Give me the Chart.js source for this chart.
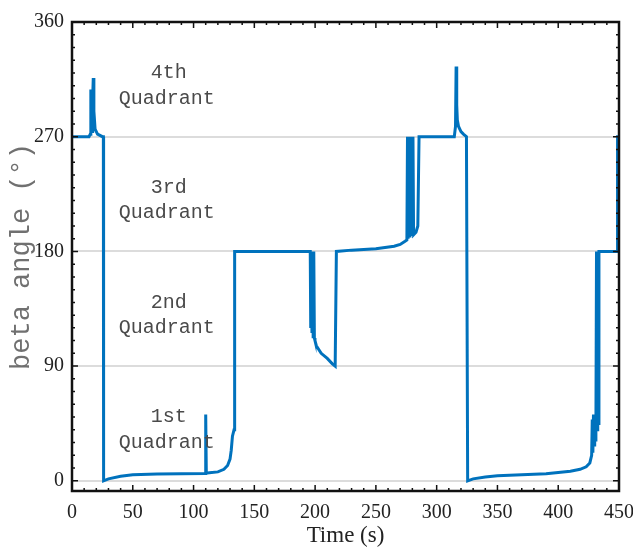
<!DOCTYPE html>
<html>
<head>
<meta charset="utf-8">
<script src="https://cdn.jsdelivr.net/npm/chart.js@4.4.1/dist/chart.umd.min.js"></script>
<style>
  body { margin: 0; background: #fff; }
  #wrap { width: 633px; height: 550px; }
</style>
</head>
<body>
<div id="wrap"><canvas id="betaChart"></canvas></div>
<script>
// time (s) and beta angle (deg)
const timeS = [
  0, 14, 15, 15.5, 16, 16.5, 17, 17.5, 18, 19, 21, 25, 25.8,
  26, 30, 40, 50, 70, 90, 109.5, 110, 110.5, 113, 120, 125, 128, 130, 131, 132, 133.3, 133.8,
  196, 196.4, 196.9, 197.4, 197.9, 198.4, 198.9, 199.4, 199.9, 201, 205, 210, 214, 216.5, 217.5,
  230, 250, 265, 270, 274, 275.5, 276, 276.5, 277.5, 278, 279, 279.5, 280.5, 281, 283, 284.5, 285.5,
  314.5, 315.5, 316, 316.5, 317, 318, 320, 322, 324.5, 325.5,
  330, 340, 350, 370, 390, 400, 410, 418, 423, 426, 427.5, 428, 428.5, 429, 429.5, 430, 430.5, 431,
  431.5, 432, 432.5, 433, 433.5, 448.5, 448.8, 450
];
const betaDeg = [
  270, 270, 272, 307, 300, 274, 300, 316, 290, 276, 272, 270, 270,
  0, 1.5, 3.5, 4.8, 5.3, 5.5, 5.8, 52, 6, 6.3, 7, 9, 12, 17, 24, 35, 40, 180,
  180, 120, 180, 116, 180, 113, 180, 112, 110, 106, 100, 96, 92, 90, 180,
  181, 182, 184, 185.5, 188, 189, 270, 190, 270, 191, 270, 192, 270, 193, 195, 200, 270,
  270, 278, 325, 295, 283, 278, 274, 272, 270, 0,
  1.5, 3, 4, 4.8, 5.5, 6.5, 7.5, 9, 11, 14, 20, 48, 22, 52, 28, 45, 32, 40,
  180, 40, 180, 45, 180, 180, 270, 270
];
const xTicks = [0, 50, 100, 150, 200, 250, 300, 350, 400, 450];
const yTicks = [0, 90, 180, 270, 360];
const quadrantNames = ['1st', '2nd', '3rd', '4th'];

const points = timeS.map((t, i) => ({ x: t, y: betaDeg[i] }));

// inward ticks, frame and quadrant labels, matlab style
const framePlugin = {
  id: 'framePlugin',
  afterDatasetsDraw(chart) {
    const { ctx, chartArea: a, scales: { x, y } } = chart;
    ctx.save();
    ctx.strokeStyle = '#111';
    ctx.lineWidth = 1.5;
    for (let v = 0; v <= 450; v += 10) {
      const px = x.getPixelForValue(v);
      const len = v % 50 === 0 ? 6 : 3;
      ctx.beginPath();
      ctx.moveTo(px, a.bottom); ctx.lineTo(px, a.bottom - len);
      ctx.moveTo(px, a.top); ctx.lineTo(px, a.top + len);
      ctx.stroke();
    }
    for (let v = 0; v <= 360; v += 10) {
      const py = y.getPixelForValue(v);
      const len = v % 90 === 0 ? 6 : 3;
      ctx.beginPath();
      ctx.moveTo(a.left, py); ctx.lineTo(a.left + len, py);
      ctx.moveTo(a.right, py); ctx.lineTo(a.right - len, py);
      ctx.stroke();
    }
    ctx.lineWidth = 2.5;
    ctx.strokeRect(a.left, a.top, a.right - a.left, a.bottom - a.top);

    ctx.fillStyle = '#4a4a4a';
    ctx.font = '20px "Liberation Mono", monospace';
    ctx.textAlign = 'center';
    ctx.textBaseline = 'middle';
    const cx = x.getPixelForValue(78);
    quadrantNames.forEach((name, i) => {
      ctx.fillText(name, cx + 2, y.getPixelForValue(i * 90 + 50));
      ctx.fillText('Quadrant', cx, y.getPixelForValue(i * 90 + 30));
    });
    ctx.restore();
  }
};

new Chart(document.getElementById('betaChart'), {
  type: 'line',
  data: {
    datasets: [{
      data: points,
      borderColor: '#0072BD',
      borderWidth: 3,
      pointRadius: 0,
      tension: 0,
      fill: false
    }]
  },
  options: {
    responsive: true,
    maintainAspectRatio: false,
    animation: false,
    layout: { padding: { top: 22, right: 14, left: 0, bottom: 0 } },
    plugins: { legend: { display: false }, tooltip: { enabled: false } },
    scales: {
      x: {
        type: 'linear',
        min: 0, max: 450,
        afterBuildTicks: s => { s.ticks = xTicks.map(v => ({ value: v })); },
        afterFit: s => { s.height = 59; s.paddingLeft = 0; s.paddingRight = 0; },
        grid: { display: false },
        border: { display: false },
        ticks: { color: '#222', padding: 2, maxRotation: 0, font: { family: '"Liberation Serif", serif', size: 20 } },
        title: { display: true, text: 'Time (s)', color: '#222', padding: { top: 0, bottom: 0 }, font: { family: '"Liberation Serif", serif', size: 23 } }
      },
      y: {
        min: -8, max: 360,
        afterBuildTicks: s => { s.ticks = yTicks.map(v => ({ value: v })); },
        afterFit: s => { s.width = 72; s.paddingTop = 0; s.paddingBottom = 0; },
        grid: { color: '#dcdcdc', lineWidth: 2, drawTicks: false },
        border: { display: false },
        ticks: { color: '#222', padding: 8, font: { family: '"Liberation Serif", serif', size: 20 } },
        title: { display: true, text: 'beta angle (°)', color: '#707070', padding: { top: 6, bottom: 0 }, font: { family: '"Liberation Mono", monospace', size: 27 } }
      }
    }
  },
  plugins: [framePlugin]
});
</script>
</body>
</html>
